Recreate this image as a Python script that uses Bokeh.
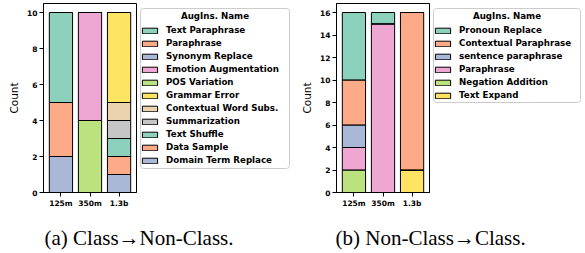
from bokeh.plotting import figure
from bokeh.models import (Range1d, FactorRange, Legend, LegendItem, Label, BoxAnnotation,
                          SingleIntervalTicker, ColumnDataSource)
from bokeh.layouts import row, column
from bokeh.embed import file_html
from bokeh.resources import INLINE
from bokeh.palettes import Set2

# ---------------- data ----------------
models = ["125m", "350m", "1.3b"]

# Panel (a) Class -> Non-Class  (legend order, top of stack first)
a_names = ["Text Paraphrase", "Paraphrase", "Synonym Replace", "Emotion Augmentation",
           "POS Variation", "Grammar Error", "Contextual Word Subs.", "Summarization",
           "Text Shuffle", "Data Sample", "Domain Term Replace"]
a_text_paraphrase = [5, 0, 0]
a_paraphrase = [3, 0, 0]
a_synonym_replace = [2, 0, 0]
a_emotion_augmentation = [0, 6, 0]
a_pos_variation = [0, 4, 0]
a_grammar_error = [0, 0, 5]
a_contextual_word_subs = [0, 0, 1]
a_summarization = [0, 0, 1]
a_text_shuffle = [0, 0, 1]
a_data_sample = [0, 0, 1]
a_domain_term_replace = [0, 0, 1]
a_series = [a_text_paraphrase, a_paraphrase, a_synonym_replace, a_emotion_augmentation,
            a_pos_variation, a_grammar_error, a_contextual_word_subs, a_summarization,
            a_text_shuffle, a_data_sample, a_domain_term_replace]
a_yticks_max = 10
a_caption = "(a) Class\u2192Non-Class."

# Panel (b) Non-Class -> Class
b_names = ["Pronoun Replace", "Contextual Paraphrase", "sentence paraphrase",
           "Paraphrase", "Negation Addition", "Text Expand"]
b_pronoun_replace = [6, 1, 0]
b_contextual_paraphrase = [4, 0, 14]
b_sentence_paraphrase = [2, 0, 0]
b_paraphrase = [2, 15, 0]
b_negation_addition = [2, 0, 0]
b_text_expand = [0, 0, 2]
b_series = [b_pronoun_replace, b_contextual_paraphrase, b_sentence_paraphrase,
            b_paraphrase, b_negation_addition, b_text_expand]
b_yticks_max = 16
b_caption = "(b) Non-Class\u2192Class."

legend_title = "AugIns. Name"
palette = list(Set2[8])
ROW_H = 210
LEG_FONT = "8.7px"


def colors_for(n):
    return [palette[i % len(palette)] for i in range(n)]


def make_panel(names, series, ymax, width, min_left):
    n = len(names)
    keys = [f"s{i}" for i in range(n)]
    data = {"model": models}
    for k, vals in zip(keys, series):
        data[k] = vals
    src = ColumnDataSource(data)
    colors = colors_for(n)

    p = figure(x_range=FactorRange(*models, range_padding=0.1, range_padding_units="absolute"),
               y_range=Range1d(0, ymax * 1.05),
               width=width, height=ROW_H, frame_align=False,
               output_backend="svg", toolbar_location=None,
               min_border_left=min_left, min_border_right=1,
               min_border_top=3, min_border_bottom=0)
    p.title.visible = False
    order = list(range(n))[::-1]          # stack bottom-up: reverse of legend order
    p.vbar_stack([keys[i] for i in order], x="model", width=0.8, source=src,
                 fill_color=[colors[i] for i in order], fill_alpha=0.75,
                 line_color="black", line_width=1)

    p.xgrid.visible = False
    p.ygrid.visible = False
    p.outline_line_color = "black"
    p.outline_line_width = 1
    p.outline_line_alpha = 1

    p.yaxis.ticker = SingleIntervalTicker(interval=2, num_minor_ticks=0)
    for ax in (p.xaxis[0], p.yaxis[0]):
        ax.axis_line_color = "black"
        ax.major_tick_line_color = "black"
        ax.major_tick_out = 4
        ax.major_tick_in = 0
        ax.minor_tick_line_color = None
        ax.major_label_text_font = "DejaVu Sans"
        ax.major_label_text_font_style = "bold"
        ax.major_label_text_font_size = "7.5px"
        ax.major_label_text_color = "black"
        ax.major_label_standoff = 2
    p.yaxis.axis_label = "Count"
    p.yaxis.axis_label_text_font = "DejaVu Sans"
    p.yaxis.axis_label_text_font_style = "normal"
    p.yaxis.axis_label_text_font_size = "10.5px"
    p.yaxis.axis_label_text_color = "black"
    p.yaxis.axis_label_standoff = 4
    return p


def make_legend(names, width, box_left, box_right, box_top, box_bottom):
    n = len(names)
    colors = colors_for(n)
    lf = figure(width=width, height=ROW_H, x_range=Range1d(0, width), y_range=Range1d(0, ROW_H),
                output_backend="svg", toolbar_location=None, frame_align=False,
                x_axis_location=None, y_axis_location=None,
                min_border=0, outline_line_color=None)
    lf.title.visible = False
    lf.grid.visible = False
    lf.add_layout(BoxAnnotation(left=box_left, right=box_right, top=ROW_H - box_top,
                                bottom=ROW_H - box_bottom,
                                fill_color="white", fill_alpha=1,
                                line_color="#cccccc", line_width=1, line_alpha=1,
                                border_radius=3))
    lf.add_layout(Label(x=(box_left + box_right) / 2, y=ROW_H - 15.7, text=legend_title,
                        text_align="center", text_baseline="middle",
                        text_font="DejaVu Sans", text_font_style="bold",
                        text_font_size=LEG_FONT, text_color="black"))
    items = []
    for i in range(n):
        # legend-only proxy glyph, kept outside the visible area of this legend panel
        r = lf.vbar(x=[-100], top=[-100], bottom=[-110], width=1,
                    fill_color=colors[i], fill_alpha=0.75,
                    line_color="black", line_width=1)
        items.append(LegendItem(label=names[i], renderers=[r], index=0))
    leg_h = 2 * 4 + n * 11 + (n - 1) * 2
    top_rel = 16.5
    legend = Legend(items=items, location=(box_left, ROW_H - top_rel - leg_h),
                    ncols=1, orientation="vertical",
                    margin=0, padding=4, spacing=2,
                    glyph_width=19, glyph_height=7, label_standoff=7, label_height=11,
                    label_text_font="DejaVu Sans", label_text_font_style="bold",
                    label_text_font_size=LEG_FONT, label_text_color="black",
                    border_line_color=None, background_fill_alpha=0)
    lf.add_layout(legend, "center")
    return lf


pa = make_panel(a_names, a_series, a_yticks_max, 137, 43)
la = make_legend(a_names, 153, 3, 152, 8, 168)
pb = make_panel(b_names, b_series, b_yticks_max, 140, 46)
lb = make_legend(b_names, 153, 3, 150, 8, 102)

# caption strip
CAP_W, CAP_H = 583, 42
cap = figure(width=CAP_W, height=CAP_H, x_range=Range1d(0, CAP_W), y_range=Range1d(0, CAP_H),
             output_backend="svg", toolbar_location=None, frame_align=False,
             x_axis_location=None, y_axis_location=None,
             min_border=0, outline_line_color=None)
cap.grid.visible = False
cap.title.visible = False
cap.add_layout(Label(x=44, y=14.5, text=a_caption,
                     text_font="Liberation Serif", text_font_size="21px",
                     text_color="black", text_baseline="middle", text_align="left"))
cap.add_layout(Label(x=335, y=14.5, text=b_caption,
                     text_font="Liberation Serif", text_font_size="21px",
                     text_color="black", text_baseline="middle", text_align="left"))

layout = column(row(pa, la, pb, lb), cap)
open("out.html", "w").write(file_html(layout, INLINE))
